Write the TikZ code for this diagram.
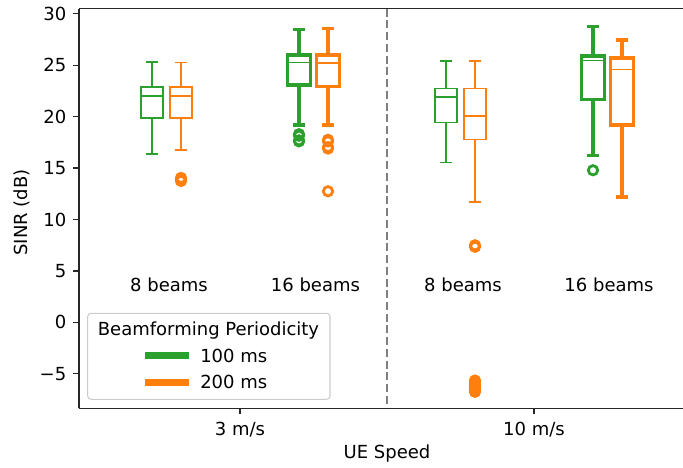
\documentclass[tikz,border=0pt]{standalone}
\usepackage{fontspec}
\setmainfont{DejaVu Sans}
\definecolor{tabgreen}{HTML}{2CA02C}
\definecolor{taborange}{HTML}{FF7F0E}
\definecolor{spinecol}{HTML}{262626}
\definecolor{legendedge}{HTML}{CCCCCC}
\definecolor{sepgray}{HTML}{808080}

% x in pixels (0.75pt each), y in dB (10.286 px per dB, 0 dB at pixel row 322.4)
\newcommand\bxp[8]{% #1 x, #2 colour, #3 weight, #4 low cap, #5 q1, #6 median, #7 q3, #8 high cap
  \begin{scope}[draw=#2, #3]
    \draw (#1-11.2,#5) rectangle (#1+11.2,#7);
    \draw[medianline] (#1-11.2,#6) -- (#1+11.2,#6);
    \draw (#1,#5) -- (#1,#4);
    \draw (#1-5.8,#4) -- (#1+5.8,#4);
    \draw (#1,#7) -- (#1,#8);
    \draw (#1-5.8,#8) -- (#1+5.8,#8);
  \end{scope}}
\newcommand\flier[3]{\draw[#3] (#1,#2) circle[radius=3.5pt];}

\tikzset{
  thinbox/.style={line width=1.2pt},
  thickbox/.style={line width=2.4pt},
  medianline/.style={line width=1.2pt},
  flierstyle/.style={line width=2.1pt},
  lbl/.style={font=\fontsize{13.5}{16}\selectfont, inner sep=0pt},
  spine/.style={draw=spinecol, line width=1pt},
}

\begin{document}
\begin{tikzpicture}[x=0.75pt, y=7.7145pt]
\useasboundingbox (0,-14.155) rectangle (683,31.344);

% separator between the two speeds
\draw[sepgray, line width=2pt, dash pattern=on 6pt off 2.8pt] (387,30.5) -- (387,-8.35);

% 3 m/s, 8 beams
\bxp{152}{tabgreen}{thinbox}{16.4}{19.85}{22.0}{22.9}{25.3}
\bxp{181}{taborange}{thinbox}{16.76}{19.85}{22.0}{22.9}{25.25}
\foreach \v in {14.05,13.9,13.75} {\flier{181}{\v}{draw=taborange, flierstyle}}

% 3 m/s, 16 beams
\bxp{299}{tabgreen}{thickbox}{19.19}{23.08}{25.25}{26.0}{28.5}
\bxp{328}{taborange}{thickbox}{19.2}{22.9}{25.2}{26.0}{28.55}
\foreach \v in {18.3,18.15,17.7,17.6} {\flier{299}{\v}{draw=tabgreen, flierstyle}}
\foreach \v in {17.75,17.6,17.05,16.9,12.75} {\flier{328}{\v}{draw=taborange, flierstyle}}

% 10 m/s, 8 beams
\bxp{446}{tabgreen}{thinbox}{15.53}{19.45}{21.9}{22.75}{25.4}
\bxp{475}{taborange}{thinbox}{11.7}{17.8}{20.07}{22.75}{25.4}
\foreach \v in {7.5,7.35} {\flier{475}{\v}{draw=taborange, flierstyle}}
\foreach \v in {-5.65,-5.85,-6.05,-6.25,-6.45,-6.6,-6.75} {\flier{475}{\v}{draw=taborange, flierstyle}}

% 10 m/s, 16 beams
\bxp{593}{tabgreen}{thickbox}{16.2}{21.7}{25.45}{25.9}{28.8}
\bxp{622}{taborange}{thickbox}{12.2}{19.2}{24.6}{25.7}{27.45}
\flier{593}{14.79}{draw=tabgreen, flierstyle}

% group labels
\node[lbl, anchor=base] (g1) at (169,2.985) {8 beams};
\node[lbl, anchor=base] (g2) at (315.5,2.985) {16 beams};
\node[lbl, anchor=base] (g3) at (463,2.985) {8 beams};
\node[lbl, anchor=base] (g4) at (609,2.985) {16 beams};

% legend
\draw[draw=legendedge, fill=white, fill opacity=0.8, line width=0.8pt, rounded corners=2.5pt]
  (87.7,0.885) rectangle (330,-7.476);
\node[lbl, anchor=base] (legtitle) at (208.5,-1.225) {Beamforming Periodicity};
\draw[tabgreen, line width=5.2pt] (145,-3.237) -- (189.3,-3.237);
\draw[taborange, line width=5.2pt] (145,-5.82) -- (189.3,-5.82);
\node[lbl, anchor=base west] (leg1) at (200,-3.88) {100 ms};
\node[lbl, anchor=base west] (leg2) at (200,-6.47) {200 ms};

% axes
\draw[spine] (79,-8.35) -- (79,30.5);
\draw[spine] (79,30.5) -- (690,30.5);
\draw[spine] (78.5,-8.35) -- (690,-8.35);
\foreach \v/\t in {30/30,25/25,20/20,15/15,10/10,5/5,0/0,-5/−5} {
  \draw[spine] (73,\v) -- (79,\v);
  \node[lbl, anchor=east] (yt\v) at (66.5,\v) {\t};
}
\foreach \xx/\t/\n in {240/3 m\slash s/a,534/10 m\slash s/b} {
  \draw[spine] (\xx,-8.35) -- (\xx,-8.93);
  \node[lbl, anchor=base] (xt\n) at (\xx,-10.95) {\t};
}
\node[lbl, anchor=base] (xlabel) at (387,-13.23) {UE Speed};
\node[lbl, rotate=90, anchor=center] (ylabel) at (21.7,10.7) {SINR (dB)};
\end{tikzpicture}
\end{document}
